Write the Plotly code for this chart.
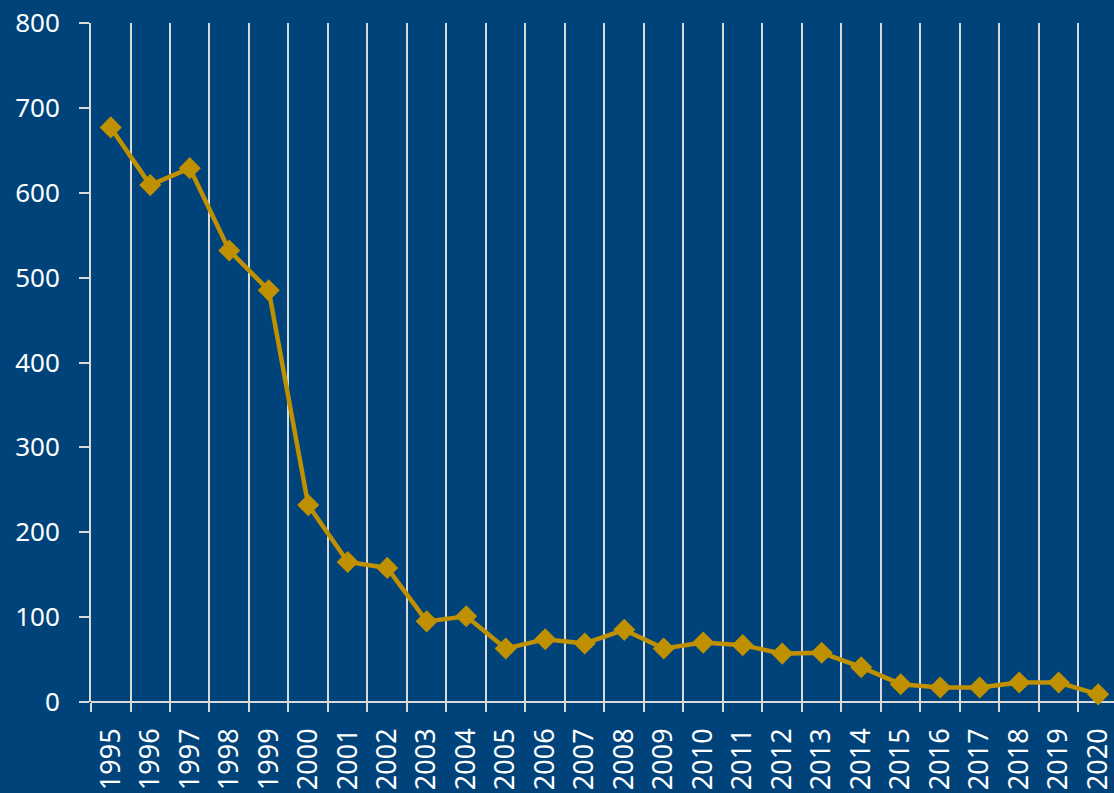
import plotly.graph_objects as go

years = list(range(1995, 2021))
values = [677, 609, 629, 532, 485, 232, 165, 158, 95, 101, 63, 74, 69, 85,
          63, 70, 67, 57, 58, 41, 21, 17, 17, 23, 23, 9]
year_labels = [str(y) for y in years]
y_ticks = [0, 100, 200, 300, 400, 500, 600, 700, 800]

BG = "#00437A"
GOLD = "#BF9000"
GRID = "#D9D9D9"

fig = go.Figure()
fig.add_trace(go.Scatter(
    x=years, y=values, mode="lines+markers",
    line=dict(color=GOLD, width=4.5),
    marker=dict(symbol="diamond", size=17, color=GOLD),
    showlegend=False, cliponaxis=False,
))

fig.update_layout(
    width=1114, height=793,
    paper_bgcolor=BG, plot_bgcolor=BG,
    margin=dict(l=91, r=0, t=23, b=91),
    font=dict(family="Noto Sans", color="white"),
)
fig.update_xaxes(
    range=[1994.5, 2020.4],
    tickmode="array", tickvals=years, ticktext=year_labels,
    tickangle=-90, tickfont=dict(size=27, color="white"),
    showgrid=False, ticks="", zeroline=False,
    showline=False,
    minor=dict(tick0=1994.5, dtick=1, showgrid=True, gridcolor=GRID,
               gridwidth=2, ticks="outside", ticklen=9, tickcolor=GRID,
               tickwidth=2),
    ticklabelstandoff=20,
    ticklabeloverflow="allow",
)
fig.update_yaxes(
    range=[0, 800], tickmode="array", tickvals=y_ticks,
    tickfont=dict(size=26, color="white"),
    showgrid=False, zeroline=True, zerolinecolor=GRID, zerolinewidth=2,
    showline=True, linecolor=GRID, linewidth=2,
    ticks="outside", ticklen=10, tickcolor=GRID, tickwidth=2,
    ticklabelstandoff=14,
)
fig.write_html(
    "out.html",
    config={"displayModeBar": False},
    post_script="document.body.style.margin='0';document.body.style.overflow='hidden';",
)
